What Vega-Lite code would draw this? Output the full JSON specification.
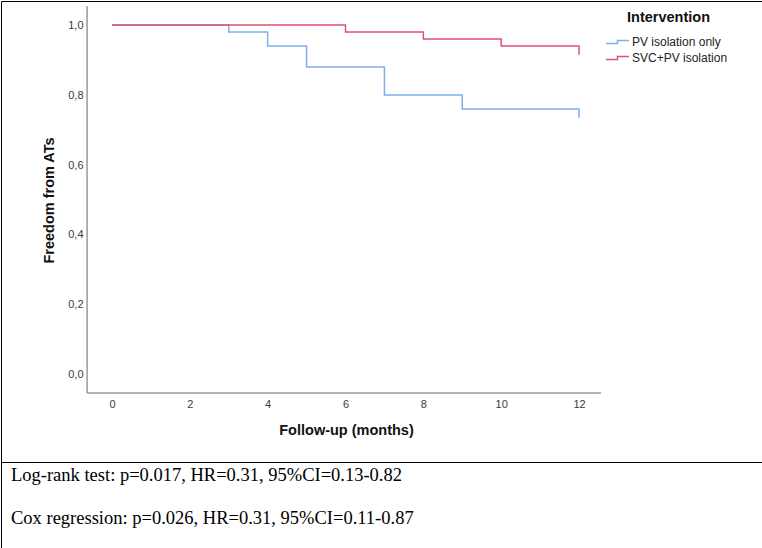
{
  "$schema": "https://vega.github.io/schema/vega-lite/v6.json",
  "padding": 0,
  "spacing": 0,
  "bounds": "flush",
  "background": "white",
  "config": {
    "view": {"stroke": "black", "strokeWidth": 1},
    "font": "Liberation Sans"
  },
  "datasets": {
    "km": [
      {"group": "PV isolation only", "ord": 1, "month": 0, "surv": 1.0},
      {"group": "PV isolation only", "ord": 2, "month": 3, "surv": 0.98},
      {"group": "PV isolation only", "ord": 3, "month": 4, "surv": 0.94},
      {"group": "PV isolation only", "ord": 4, "month": 5, "surv": 0.88},
      {"group": "PV isolation only", "ord": 5, "month": 7, "surv": 0.80},
      {"group": "PV isolation only", "ord": 6, "month": 9, "surv": 0.76},
      {"group": "PV isolation only", "ord": 7, "month": 12, "surv": 0.76},
      {"group": "PV isolation only", "ord": 8, "month": 12, "surv": 0.735},
      {"group": "SVC+PV isolation", "ord": 1, "month": 0, "surv": 1.0},
      {"group": "SVC+PV isolation", "ord": 2, "month": 6, "surv": 0.98},
      {"group": "SVC+PV isolation", "ord": 3, "month": 8, "surv": 0.96},
      {"group": "SVC+PV isolation", "ord": 4, "month": 10, "surv": 0.94},
      {"group": "SVC+PV isolation", "ord": 5, "month": 12, "surv": 0.94},
      {"group": "SVC+PV isolation", "ord": 6, "month": 12, "surv": 0.915}
    ],
    "axes": [
      {"x": -0.64, "x2": 12.565, "y": -0.0514, "y2": -0.0514},
      {"x": -0.64, "x2": -0.64, "y": -0.0514, "y2": 1.054}
    ],
    "notes": [
      {"row": 1, "col": 0, "text": "Log-rank test: p=0.017, HR=0.31, 95%CI=0.13-0.82"},
      {"row": 2, "col": 0, "text": "Cox regression: p=0.026, HR=0.31, 95%CI=0.11-0.87"}
    ]
  },
  "vconcat": [
    {
      "width": 761,
      "height": 461,
      "layer": [
        {
          "data": {"name": "axes"},
          "mark": {"type": "rule", "color": "#999999", "strokeWidth": 1.5},
          "encoding": {
            "x": {"field": "x", "type": "quantitative", "scale": {"domain": [-2.852, 16.702], "nice": false, "zero": false}},
            "x2": {"field": "x2"},
            "y": {"field": "y", "type": "quantitative", "scale": {"domain": [-0.2486, 1.0686], "nice": false, "zero": false}},
            "y2": {"field": "y2"}
          }
        },
        {
          "data": {"name": "km"},
          "mark": {"type": "line", "interpolate": "step-after", "strokeWidth": 1.5},
          "encoding": {
            "x": {
              "field": "month", "type": "quantitative",
              "scale": {"domain": [-2.852, 16.702], "nice": false, "zero": false},
              "axis": {
                "orient": "bottom", "offset": -69, "domain": false, "ticks": false, "grid": false,
                "values": [0, 2, 4, 6, 8, 10, 12],
                "labelFontSize": 11, "labelColor": "#3a3a3a", "labelPadding": 5,
                "title": "Follow-up (months)", "titleFontSize": 14.5, "titleFontWeight": "bold", "titleColor": "#111111",
                "titleX": 345, "titleY": 37, "titleBaseline": "middle", "titleAlign": "center"
              }
            },
            "y": {
              "field": "surv", "type": "quantitative",
              "scale": {"domain": [-0.2486, 1.0686], "nice": false, "zero": false},
              "axis": {
                "orient": "left", "offset": -86, "domain": false, "ticks": false, "grid": false,
                "values": [0, 0.2, 0.4, 0.6, 0.8, 1.0],
                "labelExpr": "replace(format(datum.value, '.1f'), '.', ',')",
                "labelFontSize": 11, "labelColor": "#3a3a3a", "labelPadding": 4,
                "title": "Freedom from ATs", "titleFontSize": 14.5, "titleFontWeight": "bold", "titleColor": "#111111",
                "titleX": -38, "titleY": 199, "titleAngle": 270, "titleBaseline": "middle", "titleAlign": "center"
              }
            },
            "order": {"field": "ord", "type": "quantitative"},
            "color": {
              "field": "group", "type": "nominal",
              "scale": {"domain": ["PV isolation only", "SVC+PV isolation"], "range": ["#7db0ec", "#e05272"]},
              "legend": {
                "title": "Intervention", "orient": "none", "legendX": 608.5, "legendY": 10,
                "padding": 0, "titleFontSize": 14.5, "titleFontWeight": "bold", "titleColor": "#111111",
                "titleAnchor": "middle", "titlePadding": 8.5,
                "labelFontSize": 12, "labelColor": "#222222", "labelOffset": 6.5,
                "symbolType": "M-1.64,0.2H0V-0.2H1.64", "symbolSize": 196, "symbolStrokeWidth": 1.5,
                "rowPadding": 2
              }
            }
          }
        }
      ]
    },
    {
      "width": 761,
      "height": 86,
      "data": {"name": "notes"},
      "mark": {"type": "text", "align": "left", "baseline": "alphabetic", "font": "Liberation Serif", "fontSize": 18.5, "color": "black", "dx": 10},
      "encoding": {
        "x": {"field": "col", "type": "quantitative", "scale": {"domain": [0, 1]}, "axis": null},
        "y": {"field": "row", "type": "quantitative", "scale": {"domain": [0.558, 2.558], "reverse": true, "nice": false, "zero": false}, "axis": null},
        "text": {"field": "text"}
      }
    }
  ]
}
